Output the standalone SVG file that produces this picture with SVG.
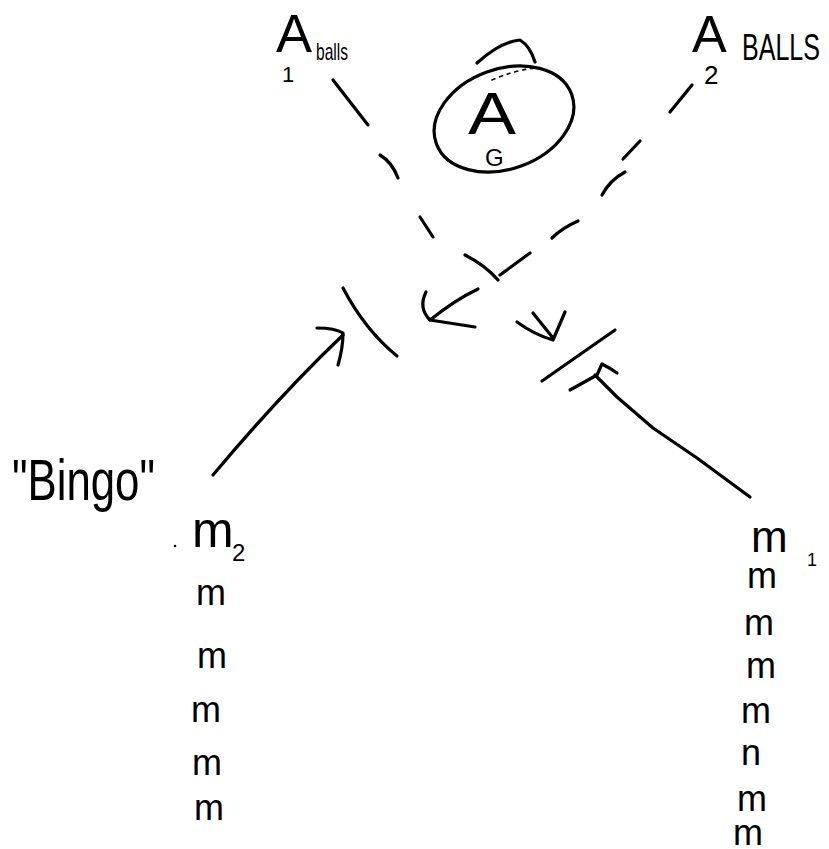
<svg xmlns="http://www.w3.org/2000/svg" width="829" height="849" viewBox="0 0 829 849">
<style>
.ln{fill:none;stroke:#000;stroke-width:3.2;stroke-linecap:round;stroke-linejoin:round}
.thin{fill:none;stroke:#000;stroke-width:1.6;stroke-linecap:round;stroke-dasharray:3 5}
.t{font-family:"Liberation Sans","DejaVu Sans",sans-serif;fill:#000}
.m{font-family:"Liberation Sans","DejaVu Sans",sans-serif;fill:#000;font-size:36px}
</style>
<rect width="829" height="849" fill="#fff"/>
<g id="label-A1">
<text class="t" x="276" y="52" font-size="54">A</text>
<text class="t" x="282" y="82" font-size="22">1</text>
<text class="t" x="316" y="60" font-size="24" textLength="32" lengthAdjust="spacingAndGlyphs">balls</text>
</g>
<g id="label-A2">
<text class="t" x="692" y="52" font-size="52">A</text>
<text class="t" x="704" y="84" font-size="26">2</text>
<text class="t" x="742" y="60" font-size="36" textLength="78" lengthAdjust="spacingAndGlyphs">BALLS</text>
</g>
<g id="node-AG">
<ellipse class="ln" cx="504" cy="119" rx="72" ry="50" transform="rotate(-20 504 119)"/>
<path class="ln" d="M477,63 Q500,42 520,40 Q530,46 535,62"/>
<path class="thin" d="M492,80 Q515,70 535,68"/>
<text class="t" x="468" y="134" font-size="60" textLength="48" lengthAdjust="spacingAndGlyphs">A</text>
<text class="t" x="485" y="166" font-size="24">G</text>
</g>
<g id="label-bingo">
<text class="t" x="12" y="500" font-size="58" textLength="143" lengthAdjust="spacingAndGlyphs">"Bingo"</text>
</g>
<g id="bar-left"><path class="ln" d="M343,288 Q365,330 397,356"/></g>
<g id="bar-right">
<path class="ln" d="M542,381 L615,330"/>
<path class="ln" d="M570,390 L597,375 L602,364 Q610,368 617,373"/>
</g>
<g id="connectors">
<path class="ln" d="M333,80 L368,125"/>
<path class="ln" d="M380,155 Q392,162 398,178"/>
<path class="ln" d="M420,217 L433,237"/>
<path class="ln" d="M465,255 Q485,265 498,280"/>
<path class="ln" d="M517,322 Q535,335 553,340 L565,312 M533,313 L553,338"/>
<path class="ln" d="M692,85 L670,112"/>
<path class="ln" d="M640,141 L623,159"/>
<path class="ln" d="M625,172 Q610,180 602,195"/>
<path class="ln" d="M578,221 Q562,228 552,238"/>
<path class="ln" d="M530,253 L500,275"/>
<path class="ln" d="M478,289 Q455,300 430,320"/>
<path class="ln" d="M426,292 Q418,308 430,320 L475,327"/>
<path class="ln" d="M213,475 Q280,395 343,335"/>
<path class="ln" d="M317,328 Q335,328 343,333 Q343,348 338,365"/>
<path class="ln" d="M595,375 L617,397 L653,428 L697,458 L750,497"/>
</g>
<g id="column-m2">
<circle cx="175" cy="546" r="1.3" fill="#000"/>
<text class="t" x="192" y="547" font-size="50">m</text>
<text class="t" x="232" y="561" font-size="24">2</text>
<text class="m" x="196" y="605">m</text>
<text class="m" x="197" y="668">m</text>
<text class="m" x="191" y="722">m</text>
<text class="m" x="192" y="775">m</text>
<text class="m" x="194" y="820">m</text>
</g>
<g id="column-m1">
<text class="t" x="751" y="552" font-size="44">m</text>
<text class="t" x="807" y="566" font-size="18">1</text>
<text class="m" x="747" y="588" font-size="32">m</text>
<text class="m" x="744" y="635" font-size="32">m</text>
<text class="m" x="746" y="678" font-size="32">m</text>
<text class="m" x="741" y="723" font-size="32">m</text>
<text class="m" x="741" y="765" font-size="32">n</text>
<text class="m" x="737" y="811" font-size="32">m</text>
<text class="m" x="733" y="845" font-size="30">m</text>
</g>
</svg>
